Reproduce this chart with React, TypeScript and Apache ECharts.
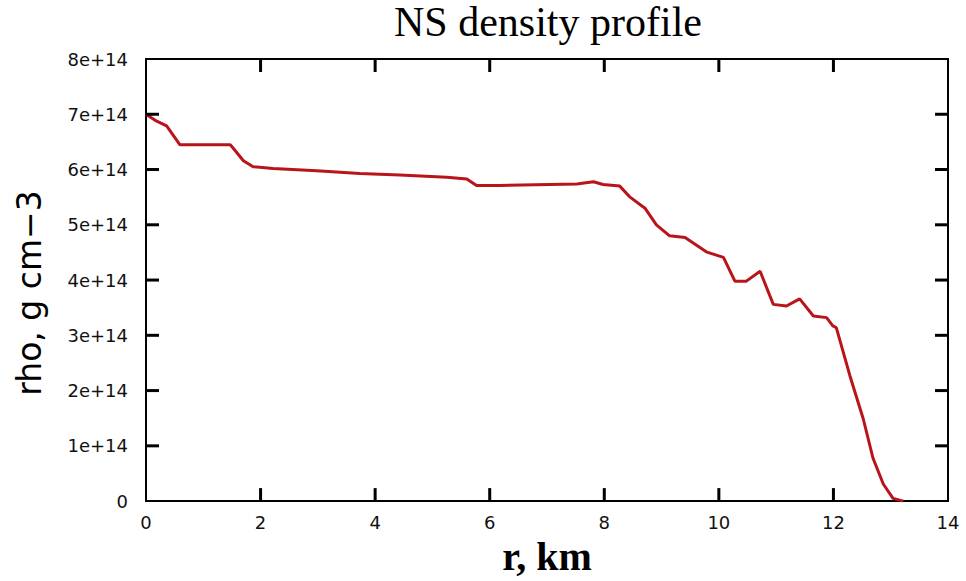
import React, { useEffect, useRef } from "react";
import * as echarts from "echarts";

const titleText = "NS density profile";
const xName = "r, km";
const yName = "rho, g cm\u22123";

// radius in km
const rVals = [
  0, 0.16, 0.36, 0.59, 1.47, 1.52, 1.7, 1.87, 2.22, 2.98, 3.73, 4.43, 5.25, 5.6, 5.77, 6.18,
  7.05, 7.52, 7.81, 7.98, 8.27, 8.45, 8.71, 8.91, 9.14, 9.41, 9.78, 10.08, 10.28, 10.48, 10.72,
  10.95, 11.18, 11.41, 11.65, 11.88, 11.99, 12.05, 12.29, 12.52, 12.69, 12.87, 13.04, 13.22,
];
// density in g cm^-3
const rhoVals = [
  7.0e14, 6.89e14, 6.79e14, 6.45e14, 6.45e14, 6.39e14, 6.16e14, 6.05e14, 6.02e14, 5.98e14, 5.93e14,
  5.9e14, 5.86e14, 5.83e14, 5.71e14, 5.71e14, 5.73e14, 5.74e14, 5.78e14, 5.73e14, 5.7e14, 5.5e14,
  5.3e14, 5.0e14, 4.8e14, 4.77e14, 4.51e14, 4.41e14, 3.98e14, 3.98e14, 4.16e14, 3.56e14, 3.53e14,
  3.66e14, 3.35e14, 3.32e14, 3.17e14, 3.14e14, 2.26e14, 1.49e14, 0.78e14, 0.31e14, 0.05e14, 0,
];

const xMin = 0;
const xMax = 14;
const xStep = 2;
const yMin = 0;
const yMax = 8e14;
const yStep = 1e14;

// inner tick positions on all four sides
const xTicks = [2, 4, 6, 8, 10, 12];
const yTicks = [1e14, 2e14, 3e14, 4e14, 5e14, 6e14, 7e14];

const fmtY = (v: number) => (v === 0 ? "0" : `${Math.round(v / 1e14)}e+14`);

const TICK_LEN = 13;
const mkSeg = (x1: number, y1: number, x2: number, y2: number) => ({
  type: "line",
  shape: { x1, y1, x2, y2 },
  style: { stroke: "#000", lineWidth: 3 },
});

const mkLine = () => ({ show: true, onZero: false, lineStyle: { color: "#000", width: 2 } });

const frameX = (position: string) => ({
  type: "value",
  position,
  min: xMin,
  max: xMax,
  interval: xStep,
  axisLine: mkLine(),
  axisTick: { show: false },
  axisLabel: { show: false },
  splitLine: { show: false },
});
const frameY = (position: string) => ({
  type: "value",
  position,
  min: yMin,
  max: yMax,
  interval: yStep,
  axisLine: mkLine(),
  axisTick: { show: false },
  axisLabel: { show: false },
  splitLine: { show: false },
});

export default function App() {
  const ref = useRef<HTMLDivElement>(null);
  useEffect(() => {
    if (!ref.current) return;
    const chart = echarts.init(ref.current, undefined, { renderer: "svg" });
    const data = rVals.map((r, i) => [r, rhoVals[i]]);
    const labelFont = { fontFamily: "DejaVu Sans", fontSize: 18, color: "#111" };
    chart.setOption({
      animation: false,
      backgroundColor: "#fff",
      title: {
        text: titleText,
        left: 543,
        textAlign: "center",
        top: -4,
        textStyle: { fontFamily: "Liberation Serif", fontSize: 42, fontWeight: "normal", color: "#000" },
      },
      grid: { left: 146, right: 18, top: 59, bottom: 70, containLabel: false },
      graphic: [
        {
          type: "text",
          x: 29,
          y: 293,
          rotation: Math.PI / 2,
          style: {
            text: yName,
            fontFamily: "DejaVu Sans",
            fontSize: 33,
            fill: "#000",
            align: "center",
            verticalAlign: "middle",
          },
        },
      ],
      xAxis: [
        {
          type: "value",
          position: "bottom",
          min: xMin,
          max: xMax,
          interval: xStep,
          name: xName,
          nameLocation: "middle",
          nameGap: 22,
          nameTextStyle: { fontFamily: "Liberation Serif", fontSize: 40, fontWeight: "bold", color: "#000" },
          axisLine: mkLine(),
          axisTick: { show: false },
          axisLabel: { ...labelFont, margin: 12 },
          splitLine: { show: false },
        },
        frameX("top"),
      ],
      yAxis: [
        {
          type: "value",
          position: "left",
          min: yMin,
          max: yMax,
          interval: yStep,
          axisLine: mkLine(),
          axisTick: { show: false },
          axisLabel: { ...labelFont, margin: 18, formatter: fmtY },
          splitLine: { show: false },
        },
        frameY("right"),
      ],
      series: [
        {
          type: "custom",
          xAxisIndex: 0,
          yAxisIndex: 0,
          silent: true,
          clip: false,
          z: 10,
          data: xTicks.map((v) => [v, yMin]),
          encode: { x: 0, y: 1 },
          renderItem: (params: any, api: any) => {
            const v = api.value(0);
            const b = api.coord([v, yMin]);
            const t = api.coord([v, yMax]);
            return {
              type: "group",
              children: [
                mkSeg(b[0], b[1], b[0], b[1] - TICK_LEN),
                mkSeg(t[0], t[1], t[0], t[1] + TICK_LEN),
              ],
            };
          },
        },
        {
          type: "custom",
          xAxisIndex: 0,
          yAxisIndex: 0,
          silent: true,
          clip: false,
          z: 10,
          data: yTicks.map((v) => [xMin, v]),
          encode: { x: 0, y: 1 },
          renderItem: (params: any, api: any) => {
            const v = api.value(1);
            const l = api.coord([xMin, v]);
            const r = api.coord([xMax, v]);
            return {
              type: "group",
              children: [
                mkSeg(l[0], l[1], l[0] + TICK_LEN, l[1]),
                mkSeg(r[0], r[1], r[0] - TICK_LEN, r[1]),
              ],
            };
          },
        },
        {
          type: "line",
          data,
          showSymbol: false,
          lineStyle: { color: "#b8141a", width: 3 },
          itemStyle: { color: "#b8141a" },
          z: 3,
        },
      ],
    });
    return () => chart.dispose();
  }, []);
  return (
    <div
      ref={ref}
      style={{ position: "fixed", left: 0, top: 0, width: 966, height: 581 }}
    />
  );
}
